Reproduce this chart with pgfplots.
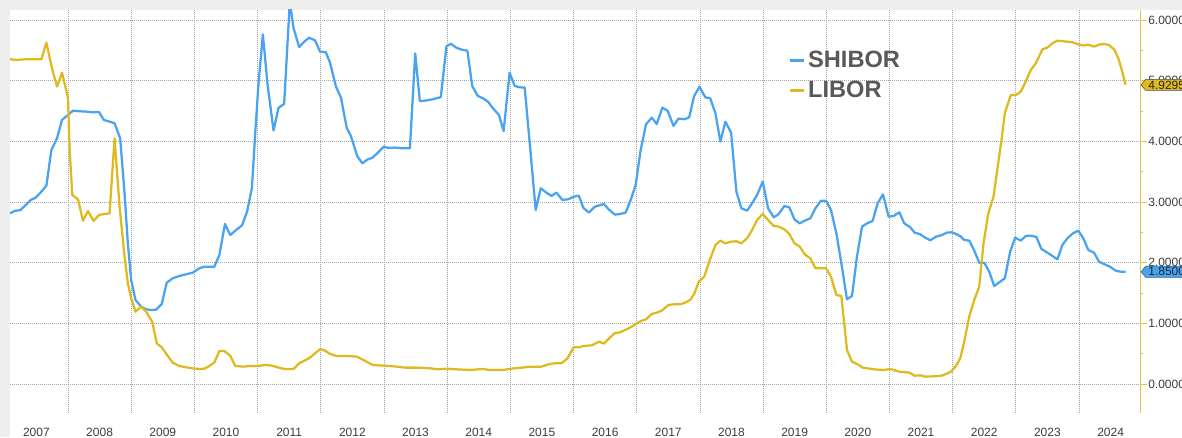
\documentclass[border=0pt]{standalone}
\usepackage{pgfplots}
\pgfplotsset{compat=1.18}
\usepackage{fontspec}
\setmainfont{Liberation Sans}
\usetikzlibrary{shapes.symbols}
\definecolor{shibor}{RGB}{74,163,240}
\definecolor{libor}{RGB}{222,186,32}
\definecolor{axgold}{RGB}{226,196,72}
\definecolor{bandgray}{RGB}{238,238,238}
\definecolor{ticktxt}{RGB}{60,60,60}
\definecolor{legtxt}{RGB}{89,89,89}
\begin{document}
\begin{tikzpicture}
\path[use as bounding box] (-7.5pt,-18pt) rectangle (879pt,309.75pt);
\fill[bandgray] (-7.5pt,302.25pt) rectangle (879pt,309.75pt);
\fill[bandgray] (-7.5pt,-18pt) rectangle (0pt,309.75pt);
\begin{axis}[
  scale only axis,
  width=848pt, height=302.25pt,
  xmin=2007.082, xmax=2024.976,
  ymin=-0.478, ymax=6.164,
  axis y line*=right, axis x line*=bottom,
  x axis line style={draw=none},
  y axis line style={draw=axgold, line width=0.8pt, -},
  xtick={2007.5,2008.5,...,2024.5},
  xticklabels={2007,2008,2009,2010,2011,2012,2013,2014,2015,2016,2017,2018,2019,2020,2021,2022,2023,2024},
  x tick style={draw=none},
  extra x ticks={2008,2009,...,2024},
  extra x tick labels={},
  extra x tick style={grid=major, major tick length=0pt},
  x tick label style={font=\fontsize{9}{10}\selectfont, text=ticktxt, anchor=base, yshift=-12.8pt},
  ytick={0,1,...,6},
  minor y tick num=1,
  ymajorgrids=true,
  major grid style={gray!70, line width=0.45pt, dash pattern=on 0.75pt off 0.75pt},
  y tick style={draw=axgold, line width=0.6pt},
  tick align=outside,
  major tick length=4.5pt, minor tick length=2pt,
  y tick label style={font=\fontsize{9}{10}\selectfont, text=ticktxt, anchor=west, inner sep=0pt, xshift=1pt},
  yticklabel={\pgfmathprintnumber[fixed, fixed zerofill, precision=5]{\tick}},
  /pgf/number format/assume math mode=true,
  legend style={at={(0.688,0.905)}, anchor=north west, draw=none, fill=none,
    font=\bfseries\fontsize{17.7}{22.5}\selectfont, text=legtxt,
    inner sep=0pt, row sep=4.5pt, cells={anchor=west}},
  legend cell align=left,
  legend image code/.code={\draw[line width=2.3pt] (0pt,0pt) -- (10.7pt,0pt);},
]
\addplot[shibor, line width=1.7pt, line join=round] coordinates {
(2007.079,2.813)(2007.158,2.852)(2007.247,2.868)(2007.332,2.951)(2007.411,3.033)(2007.489,3.071)
(2007.579,3.170)(2007.658,3.269)(2007.737,3.857)(2007.826,4.049)(2007.905,4.352)(2008.0,4.434)
(2008.079,4.505)(2008.184,4.495)(2008.289,4.489)(2008.395,4.478)(2008.489,4.484)(2008.568,4.352)
(2008.658,4.324)(2008.737,4.297)(2008.826,4.049)(2008.895,3.143)(2008.947,2.319)(2009.0,1.714)
(2009.068,1.385)(2009.158,1.275)(2009.237,1.231)(2009.316,1.220)(2009.395,1.225)(2009.484,1.319)
(2009.563,1.670)(2009.658,1.742)(2009.763,1.780)(2009.868,1.808)(2009.974,1.835)(2010.079,1.907)
(2010.158,1.934)(2010.316,1.934)(2010.395,2.126)(2010.484,2.637)(2010.568,2.455)(2010.647,2.526)
(2010.753,2.614)(2010.832,2.834)(2010.911,3.231)(2010.963,4.139)(2011.016,4.964)(2011.084,5.762)
(2011.158,4.937)(2011.253,4.177)(2011.332,4.552)(2011.421,4.617)(2011.51,6.3)(2011.568,5.872)
(2011.658,5.553)(2011.737,5.641)(2011.816,5.707)(2011.911,5.663)(2011.989,5.476)(2012.079,5.471)
(2012.147,5.294)(2012.242,4.898)(2012.321,4.717)(2012.411,4.221)(2012.474,4.095)(2012.579,3.753)
(2012.658,3.638)(2012.737,3.698)(2012.821,3.731)(2012.911,3.819)(2013.0,3.913)(2013.068,3.891)
(2013.174,3.897)(2013.279,3.886)(2013.411,3.886)(2013.495,5.448)(2013.568,4.662)(2013.674,4.673)
(2013.779,4.695)(2013.9,4.728)(2013.989,5.564)(2014.058,5.608)(2014.147,5.542)(2014.237,5.509)
(2014.321,5.493)(2014.397,4.912)(2014.487,4.747)(2014.566,4.709)(2014.646,4.654)(2014.725,4.544)
(2014.820,4.434)(2014.894,4.170)(2014.989,5.132)(2015.069,4.912)(2015.148,4.890)(2015.228,4.885)
(2015.402,2.868)(2015.481,3.225)(2015.571,3.154)(2015.651,3.099)(2015.730,3.154)(2015.825,3.033)
(2015.915,3.044)(2016.005,3.088)(2016.085,3.104)(2016.153,2.907)(2016.243,2.824)(2016.339,2.923)
(2016.481,2.967)(2016.566,2.868)(2016.656,2.791)(2016.735,2.802)(2016.825,2.824)(2016.905,3.033)
(2016.984,3.280)(2017.063,3.857)(2017.148,4.280)(2017.238,4.390)(2017.317,4.286)(2017.407,4.555)
(2017.492,4.500)(2017.582,4.253)(2017.661,4.374)(2017.757,4.363)(2017.831,4.396)(2017.910,4.747)
(2017.995,4.901)(2018.085,4.725)(2018.164,4.709)(2018.246,4.462)(2018.325,3.995)(2018.404,4.324)
(2018.494,4.143)(2018.578,3.170)(2018.657,2.896)(2018.747,2.857)(2018.826,2.978)(2018.905,3.115)
(2018.995,3.335)(2019.079,2.896)(2019.169,2.747)(2019.248,2.802)(2019.337,2.934)(2019.416,2.912)
(2019.496,2.714)(2019.580,2.648)(2019.659,2.692)(2019.749,2.731)(2019.828,2.896)(2019.917,3.022)
(2019.996,3.022)(2020.075,2.868)(2020.160,2.484)(2020.239,1.989)(2020.328,1.396)(2020.407,1.451)
(2020.486,2.099)(2020.566,2.593)(2020.645,2.648)(2020.734,2.687)(2020.813,2.978)(2020.898,3.126)
(2020.987,2.758)(2021.066,2.769)(2021.156,2.830)(2021.235,2.648)(2021.330,2.582)(2021.398,2.495)
(2021.488,2.467)(2021.567,2.412)(2021.646,2.368)(2021.736,2.429)(2021.820,2.451)(2021.910,2.495)
(2021.989,2.500)(2022.053,2.473)(2022.132,2.429)(2022.184,2.374)(2022.263,2.363)(2022.342,2.198)
(2022.421,2.0)(2022.5,2.0)(2022.579,1.852)(2022.658,1.615)(2022.753,1.687)(2022.826,1.742)
(2022.911,2.181)(2022.989,2.412)(2023.079,2.363)(2023.158,2.440)(2023.237,2.445)(2023.326,2.423)
(2023.405,2.225)(2023.5,2.165)(2023.579,2.110)(2023.658,2.055)(2023.737,2.291)(2023.816,2.401)
(2023.905,2.484)(2023.989,2.527)(2024.068,2.401)(2024.147,2.209)(2024.237,2.165)(2024.316,2.016)
(2024.405,1.973)(2024.489,1.934)(2024.579,1.868)(2024.658,1.850)(2024.737,1.850)
};
\addlegendentry{SHIBOR}
\addplot[libor, line width=1.7pt, line join=round] coordinates {
(2007.079,5.352)(2007.184,5.341)(2007.316,5.352)(2007.447,5.352)(2007.579,5.352)(2007.658,5.626)
(2007.747,5.203)(2007.826,4.901)(2007.905,5.132)(2007.958,4.901)(2008.0,4.709)(2008.026,3.857)
(2008.068,3.115)(2008.158,3.044)(2008.237,2.692)(2008.316,2.852)(2008.405,2.687)(2008.489,2.786)
(2008.579,2.802)(2008.658,2.813)(2008.737,4.049)(2008.816,2.923)(2008.895,2.099)(2008.947,1.659)
(2009.0,1.412)(2009.068,1.192)(2009.158,1.275)(2009.237,1.192)(2009.332,1.027)(2009.405,0.670)
(2009.484,0.604)(2009.568,0.478)(2009.658,0.352)(2009.763,0.297)(2009.868,0.275)(2009.974,0.258)
(2010.079,0.247)(2010.158,0.253)(2010.237,0.297)(2010.316,0.352)(2010.395,0.544)(2010.474,0.544)
(2010.568,0.465)(2010.647,0.297)(2010.779,0.286)(2010.884,0.297)(2011.016,0.297)(2011.121,0.314)
(2011.226,0.303)(2011.332,0.270)(2011.426,0.248)(2011.568,0.248)(2011.658,0.341)(2011.816,0.424)
(2011.911,0.506)(2011.995,0.578)(2012.068,0.550)(2012.147,0.495)(2012.253,0.462)(2012.411,0.462)
(2012.568,0.451)(2012.674,0.396)(2012.821,0.314)(2012.989,0.303)(2013.147,0.292)(2013.332,0.270)
(2013.516,0.270)(2013.726,0.259)(2013.858,0.242)(2013.989,0.253)(2014.147,0.242)(2014.358,0.231)
(2014.566,0.247)(2014.672,0.231)(2014.884,0.231)(2015.016,0.253)(2015.122,0.264)(2015.228,0.275)
(2015.333,0.286)(2015.492,0.286)(2015.624,0.330)(2015.704,0.341)(2015.810,0.341)(2015.905,0.423)
(2016.0,0.604)(2016.085,0.604)(2016.153,0.626)(2016.286,0.637)(2016.407,0.698)(2016.481,0.665)
(2016.566,0.753)(2016.646,0.835)(2016.735,0.852)(2016.841,0.901)(2016.921,0.945)(2017.0,1.0)
(2017.079,1.044)(2017.148,1.066)(2017.238,1.154)(2017.317,1.176)(2017.397,1.209)(2017.503,1.302)
(2017.582,1.313)(2017.688,1.313)(2017.767,1.341)(2017.847,1.385)(2017.910,1.484)(2017.984,1.687)
(2018.069,1.769)(2018.153,2.033)(2018.246,2.291)(2018.325,2.363)(2018.404,2.319)(2018.494,2.346)
(2018.578,2.352)(2018.657,2.319)(2018.747,2.401)(2018.826,2.538)(2018.905,2.703)(2018.995,2.802)
(2019.079,2.703)(2019.169,2.604)(2019.248,2.593)(2019.337,2.549)(2019.416,2.473)(2019.496,2.319)
(2019.580,2.264)(2019.659,2.137)(2019.749,2.071)(2019.828,1.907)(2019.996,1.907)(2020.075,1.769)
(2020.160,1.467)(2020.239,1.451)(2020.328,0.560)(2020.407,0.368)(2020.486,0.330)(2020.581,0.269)
(2020.750,0.242)(2020.908,0.231)(2021.014,0.247)(2021.156,0.203)(2021.319,0.187)(2021.398,0.137)
(2021.488,0.143)(2021.567,0.121)(2021.804,0.132)(2021.883,0.159)(2021.974,0.203)(2022.053,0.297)
(2022.121,0.423)(2022.184,0.698)(2022.263,1.110)(2022.342,1.385)(2022.421,1.604)(2022.489,2.319)
(2022.563,2.802)(2022.647,3.088)(2022.721,3.637)(2022.774,4.022)(2022.826,4.462)(2022.921,4.764)
(2023.0,4.764)(2023.079,4.819)(2023.158,4.984)(2023.237,5.176)(2023.316,5.286)(2023.421,5.516)
(2023.5,5.544)(2023.579,5.615)(2023.658,5.659)(2023.763,5.648)(2023.895,5.632)(2023.989,5.599)
(2024.068,5.577)(2024.147,5.593)(2024.237,5.560)(2024.316,5.593)(2024.395,5.604)(2024.474,5.588)
(2024.563,5.505)(2024.632,5.341)(2024.684,5.148)(2024.737,4.9295)
};
\addlegendentry{LIBOR}
\coordinate (tagL) at (axis cs:2024.976,4.9295);
\coordinate (tagS) at (axis cs:2024.976,1.85);
\end{axis}
\node[signal, signal to=west, signal pointer angle=100, fill=libor, draw=black!70, line width=0.4pt,
  inner xsep=2pt, inner ysep=1pt, anchor=west, font=\fontsize{9}{10}\selectfont, text=black!85,
  minimum width=40pt] at (tagL) {4.92950};
\node[signal, signal to=west, signal pointer angle=100, fill=shibor, draw=shibor!60!black, line width=0.4pt,
  inner xsep=2pt, inner ysep=1pt, anchor=west, font=\fontsize{9}{10}\selectfont, text=black!85,
  minimum width=40pt] at (tagS) {1.85000};
\end{tikzpicture}
\end{document}
